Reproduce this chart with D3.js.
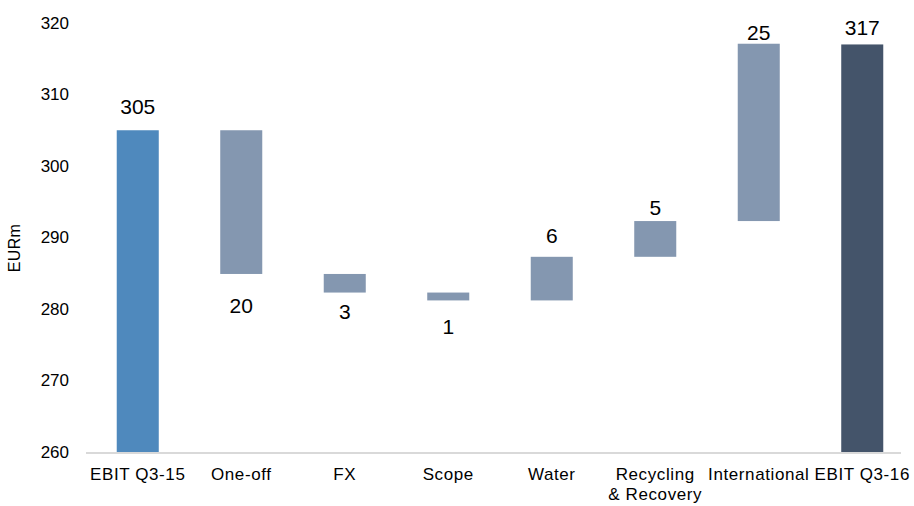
<!DOCTYPE html>
<html>
<head>
<meta charset="utf-8">
<script src="https://cdn.jsdelivr.net/npm/d3@7"></script>
<style>
  body { margin: 0; background: #fff; }
  text { font-family: "Liberation Sans", Arial, sans-serif; fill: #000; }
</style>
</head>
<body>
<script>
// data
const categories = ["EBIT Q3-15", "One-off", "FX", "Scope", "Water", "Recycling\n& Recovery", "International", "EBIT Q3-16"];
const startValue = 305;
const deltas = [-20.1, -2.6, -1.1, 6.1, 5.0, 24.8];
const endValue = 317;
const yTicks = [260, 270, 280, 290, 300, 310, 320];

// layout
const width = 914, height = 506;
const barColors = { total0: "#4f89bd", step: "#8497b0", total1: "#44546a" };
// baseline of each value label relative to the bar edge it belongs to (px)
const labelGap = [-16, 39, 26, 34, -14, -6, -4, -9];

// build waterfall rows
let rows = [];
rows.push({ cat: categories[0], lo: 260, hi: startValue, val: startValue, kind: "total0" });
let run = startValue;
deltas.forEach((d, i) => {
  let next = run + d;
  rows.push({ cat: categories[i + 1], lo: Math.min(run, next), hi: Math.max(run, next), val: d, kind: "step" });
  run = next;
});
rows.push({ cat: categories[7], lo: 260, hi: endValue, val: endValue, kind: "total1" });

let svg = d3.select("body")
  .append("svg")
    .attr("width", width)
    .attr("height", height);

let x = d3.scaleBand()
  .domain(categories)
  .range([86, 914])
  .paddingInner(0.594)
  .paddingOuter(0.297);

let y = d3.scaleLinear()
  .domain([260, 320])
  .range([452, 23]);

// y tick labels (no axis line in the original)
svg.append("g")
  .selectAll("text")
  .data(yTicks)
  .enter()
  .append("text")
    .attr("x", 69)
    .attr("y", d => y(d))
    .attr("dy", "0.35em")
    .style("text-anchor", "end")
    .style("font-size", "17px")
    .text(d => d);

svg.append("text")
  .attr("transform", "translate(20,248) rotate(-90)")
  .style("text-anchor", "middle")
  .style("font-size", "16px")
  .style("letter-spacing", "0.4px")
  .text("EURm");

// bars
svg.append("g")
  .selectAll("rect")
  .data(rows)
  .enter()
  .append("rect")
    .attr("x", d => x(d.cat))
    .attr("width", x.bandwidth())
    .attr("y", d => y(d.hi))
    .attr("height", d => y(d.lo) - y(d.hi))
    .attr("fill", d => barColors[d.kind]);

// baseline
svg.append("line")
  .attr("x1", 86)
  .attr("x2", 901)
  .attr("y1", y(260) + 1)
  .attr("y2", y(260) + 1)
  .attr("stroke", "#d9d9d9")
  .attr("stroke-width", 2);

// value labels
svg.append("g")
  .selectAll("text")
  .data(rows)
  .enter()
  .append("text")
    .attr("x", d => x(d.cat) + x.bandwidth() / 2)
    .attr("y", (d, i) => (d.val < 0 ? y(d.lo) : y(d.hi)) + labelGap[i])
    .style("text-anchor", "middle")
    .style("font-size", "21px")
    .text(d => Math.round(Math.abs(d.val)));

// category labels
let cats = svg.append("g")
  .selectAll("text")
  .data(categories)
  .enter()
  .append("text")
    .attr("x", d => x(d) + x.bandwidth() / 2)
    .attr("y", 480)
    .style("text-anchor", "middle")
    .style("font-size", "17px")
    .style("letter-spacing", "0.6px");

cats.selectAll("tspan")
  .data(d => d.split("\n"))
  .enter()
  .append("tspan")
    .attr("x", function() { return d3.select(this.parentNode).attr("x"); })
    .attr("dy", (d, i) => i === 0 ? 0 : 20)
    .text(d => d);
</script>
</body>
</html>
